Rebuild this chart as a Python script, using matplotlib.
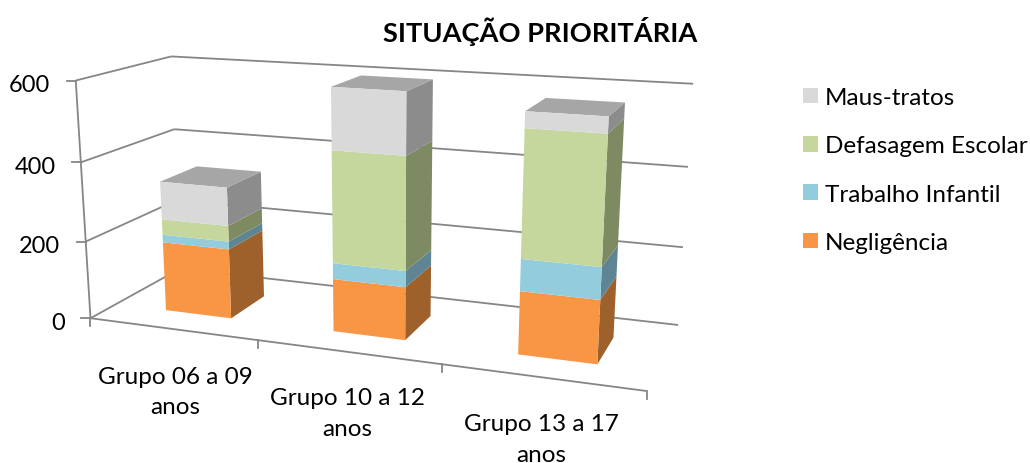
import numpy as np
import matplotlib
matplotlib.use("Agg")
import matplotlib.pyplot as plt
from matplotlib.patches import Polygon, Patch

categories = ["Grupo 06 a 09\nanos", "Grupo 10 a 12\nanos", "Grupo 13 a 17\nanos"]
negligencia = [180, 133, 154]
trabalho = [20, 40, 77]
defasagem = [40, 277, 302]
maus_tratos = [97, 150, 38]
series_names = ["Negligência", "Trabalho Infantil", "Defasagem Escolar", "Maus-tratos"]
series_values = [negligencia, trabalho, defasagem, maus_tratos]
front_colors = ["#F99645", "#93CDDD", "#C5D79C", "#D9D9D9"]
side_colors = ["#9E612B", "#5F8594", "#7E8B62", "#8C8C8C"]
top_color = "#A6A6A6"
y_ticks = [0, 200, 400, 600]
y_tick_label_right = {0: 65, 200: 60, 400: 56, 600: 50}

# Camera calibration: (category pos, value, depth) -> picture pixel, used as the chart's scale
scale_src = np.array([
    (0, 600, 0), (0, 400, 0), (0, 200, 0), (0, 0, 0),
    (0, 600, 1), (0, 400, 1), (0, 200, 1), (0, 0, 1),
    (3, 600, 1), (3, 400, 1), (3, 200, 1), (3, 0, 1),
    (1, 0, 0), (2, 0, 0), (3, 0, 0)], float)
scale_dst = np.array([
    (75, 82), (81, 163), (86, 243), (91, 319),
    (172, 57), (174, 130), (177, 201), (180, 270),
    (693, 85), (688, 168), (683, 248), (678, 326),
    (257, 341), (442, 365), (647, 392)], float)


def fit_camera(src, dst):
    rows, rhs = [], []
    for (u, v, w), (x, y) in zip(src, dst):
        v = v / 600
        rows.append([u, v, w, 1, 0, 0, 0, 0, -x * u, -x * v, -x * w])
        rhs.append(x)
        rows.append([0, 0, 0, 0, u, v, w, 1, -y * u, -y * v, -y * w])
        rhs.append(y)
    p, *_ = np.linalg.lstsq(np.array(rows), np.array(rhs), rcond=None)
    return np.append(p, 1).reshape(3, 4)


CAM = fit_camera(scale_src, scale_dst)


def proj(u, v, w):
    h = CAM @ np.array([u, v / 600, w, 1.0])
    return h[0] / h[2], h[1] / h[2]


plt.rcParams["font.family"] = ["Lato", "DejaVu Sans"]
fig = plt.figure(figsize=(10.30, 4.64), dpi=100)
ax = fig.add_axes([0, 0, 1, 1])
ax.set_xlim(0, 1030)
ax.set_ylim(464, 0)
ax.axis("off")

line_c = "#868686"
lw = 1.3


def seg(a, b, **kw):
    pa, pb = proj(*a), proj(*b)
    ax.plot([pa[0], pb[0]], [pa[1], pb[1]], color=line_c, lw=lw, solid_capstyle="butt", **kw)


# walls
for t in y_ticks:
    seg((0, t, 0), (0, t, 1))
    seg((0, t, 1), (3, t, 1))
    x, y = proj(0, t, 0)
    ax.plot([x - 9, x], [y, y], color=line_c, lw=lw)
    ax.text(y_tick_label_right[t], y + 4, str(t), ha="right", va="center", fontsize=17, color="black")
seg((0, 0, 0), (0, 600, 0))
seg((0, 0, 0), (3, 0, 0))
for i in range(4):
    x, y = proj(i, 0, 0)
    ax.plot([x, x], [y, y + 8], color=line_c, lw=lw)

# bars
half = 0.2
w0, w1 = 0.265, 0.68
u_shift = 0.015
for i in range(3):
    u0, u1 = i + 0.5 - half + u_shift, i + 0.5 + half + u_shift
    base = 0
    for name_i, vals in enumerate(series_values):
        top = base + vals[i]
        ax.add_patch(Polygon([proj(u1, base, w0), proj(u1, base, w1), proj(u1, top, w1), proj(u1, top, w0)],
                             closed=True, fc=side_colors[name_i], ec="none", zorder=3))
        ax.add_patch(Polygon([proj(u0, base, w0), proj(u1, base, w0), proj(u1, top, w0), proj(u0, top, w0)],
                             closed=True, fc=front_colors[name_i], ec="none", zorder=4))
        base = top
    ax.add_patch(Polygon([proj(u0, base, w0), proj(u1, base, w0), proj(u1, base, w1), proj(u0, base, w1)],
                         closed=True, fc=top_color, ec="none", zorder=3))

# category labels
label_pos = [(175, 392.5), (347, 414), (541, 440)]
for txt, (x, y) in zip(categories, label_pos):
    ax.text(x, y, txt, ha="center", va="center", fontsize=17.5, color="black", linespacing=1.55)

ax.text(540, 32, "SITUAÇÃO PRIORITÁRIA", ha="center", va="center", fontsize=19.6, fontweight="bold", color="black")

handles = [Patch(fc=c, ec="none", label=n) for n, c in zip(series_names, front_colors)][::-1]
ax.legend(handles=handles, loc="upper left", bbox_to_anchor=(803 / 1030, 1 - 88 / 464), frameon=False,
          fontsize=17.5, handlelength=0.62, handleheight=0.62, handletextpad=0.27, labelspacing=1.126,
          borderpad=0, borderaxespad=0)

fig.savefig("out.png", dpi=100)
